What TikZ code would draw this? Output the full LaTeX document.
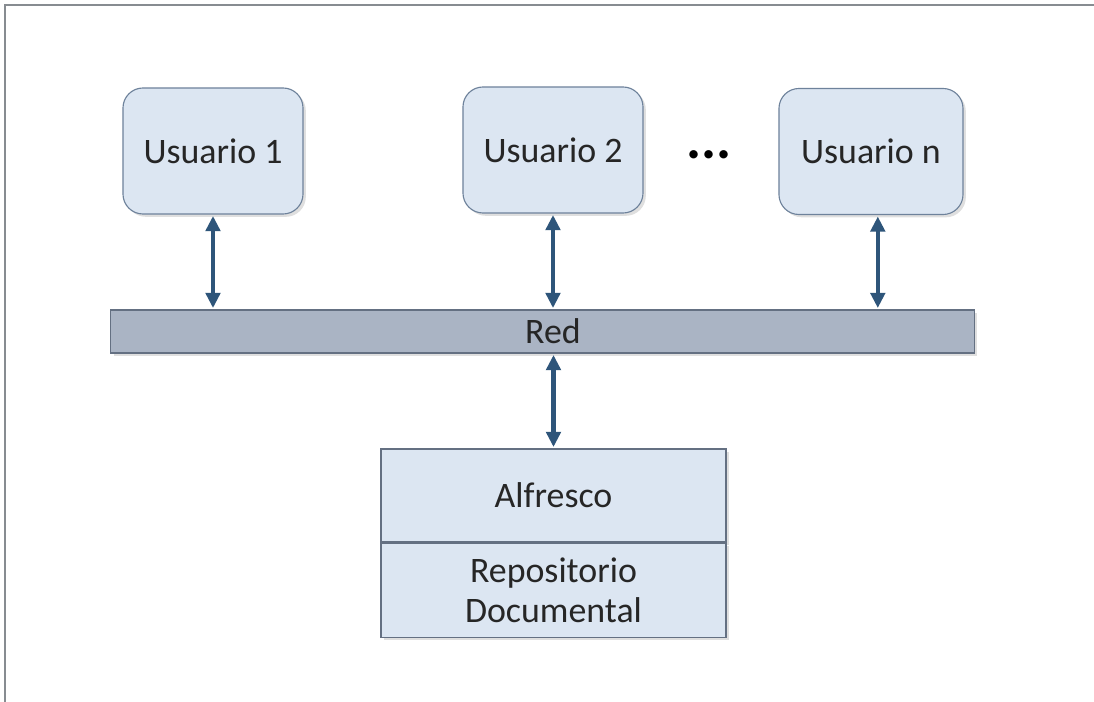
\documentclass[tikz,border=0pt]{standalone}
\usepackage{fontspec}
\setmainfont{Carlito}
\usepackage{tikz}
\usetikzlibrary{arrows.meta,positioning,shadows}
\definecolor{redblue}{RGB}{46,85,122}
\definecolor{boxfill}{RGB}{220,230,242}
\definecolor{boxline}{RGB}{110,130,155}
\definecolor{netfill}{RGB}{170,180,196}
\definecolor{netline}{RGB}{100,112,130}
\definecolor{framegray}{RGB}{135,140,145}
\tikzset{
  userbox/.style={draw=boxline, thick, rounded corners=0.5cm, fill=boxfill,
    minimum width=4.5cm, minimum height=3.15cm, align=center, inner sep=2pt,
    font=\fontsize{25.5}{30}\selectfont\color{black!85},
    drop shadow={shadow xshift=2pt, shadow yshift=-2pt, opacity=0.25}},
  netbar/.style={draw=netline, thick, fill=netfill, minimum width=21.575cm,
    minimum height=1.075cm, inner sep=0pt,
    drop shadow={shadow xshift=2pt, shadow yshift=-2pt, opacity=0.25}},
  serverbox/.style={draw=netline, thick, fill=boxfill, minimum width=8.625cm,
    align=center, inner sep=0pt, font=\fontsize{25.5}{28}\selectfont\color{black!85},
    drop shadow={shadow xshift=2pt, shadow yshift=-2pt, opacity=0.25}},
  link/.style={{Triangle[length=0.38cm,width=0.36cm]}-{Triangle[length=0.38cm,width=0.36cm]},
    line width=3pt, draw=redblue, shorten <=1pt, shorten >=1pt}
}

\begin{document}
\begin{tikzpicture}[x=0.025cm, y=-0.025cm]
  \useasboundingbox (0,0) rectangle (1094,702);
  % frame
  \draw[framegray, line width=1.5pt] (5,702) -- (5,5) -- (1094,5);
  % users
  \node[userbox] (u1) at (213,151) {Usuario 1};
  \node[userbox] (u2) at (553,150) {Usuario 2};
  \node[userbox, minimum width=4.6cm] (un) at (871,151.5) {Usuario n};
  \node[font=\fontsize{40}{40}\selectfont\bfseries] (dots) at (709,155) {...};
  % network
  \node[netbar, label={[xshift=0.26cm, font=\fontsize{25.5}{30}\selectfont\color{black!85}]center:Red}]
    (red) at (542.5,331.5) {};
  % repository
  \node[serverbox, minimum height=2.325cm] (alf) at (553.5,495.5) {Alfresco};
  \node[serverbox, minimum height=2.35cm, anchor=north] (repo) at (alf.south) {Repositorio\\Documental};
  \draw[link] (u1.south) -- (u1.south |- red.north);
  \draw[link] (u2.south) -- (u2.south |- red.north);
  \draw[link] ([xshift=0.17cm]un.south) -- ([xshift=0.17cm]un.south |- red.north);
  \draw[link] (alf.north |- red.south) -- (alf.north);
\end{tikzpicture}
\end{document}
